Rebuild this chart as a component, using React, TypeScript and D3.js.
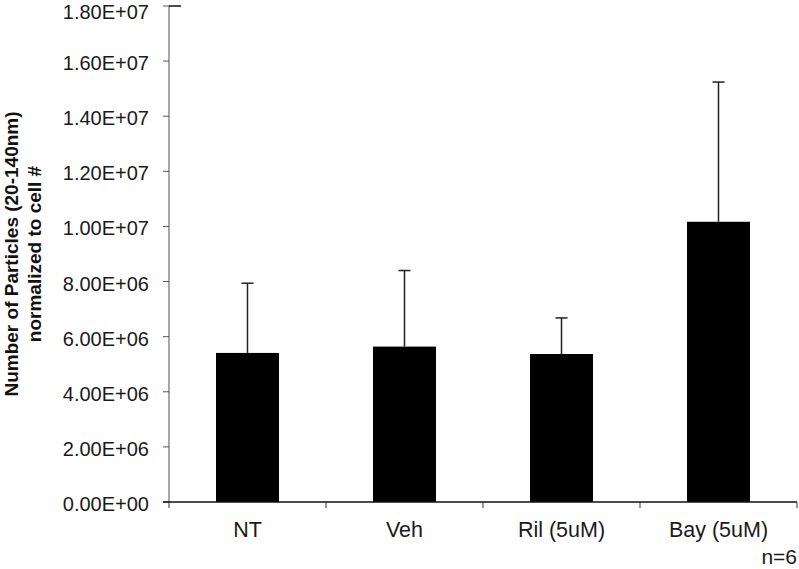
import React from "react";
import * as d3 from "d3";

const categories = ["NT", "Veh", "Ril (5uM)", "Bay (5uM)"];
const means = [5.41e6, 5.64e6, 5.37e6, 1.017e7];
const errTops = [7.94e6, 8.4e6, 6.68e6, 1.524e7];
const yTicks = [0, 2e6, 4e6, 6e6, 8e6, 1e7, 1.2e7, 1.4e7, 1.6e7, 1.8e7];
const yTitleLines = ["Number of Particles (20-140nm)", "normalized to cell #"];
const note = "n=6";

const W = 799;
const H = 569;
const left = 169;
const right = 797;
const top = 6;
const bottom = 502;

const fmt = (v: number) => {
  const s = v.toExponential(2).toUpperCase();
  const m = s.match(/^([\d.]+)E([+-])(\d+)$/);
  if (!m) return s;
  return `${m[1]}E${m[2]}${m[3].padStart(2, "0")}`;
};

export default function App() {
  const xb = d3.scaleBand<string>().domain(categories).range([left, right]);
  const y = d3.scaleLinear().domain([0, 1.8e7]).range([bottom, top]);
  const font = "'Liberation Sans', Arial, Helvetica, sans-serif";
  const capW = 12;
  const bw = 63;
  return (
    <svg width={W} height={H} style={{ position: "absolute", left: 0, top: 0, background: "#fff" }} fontFamily={font}>
      {categories.map((c, i) => {
        const cx = (xb(c) as number) + xb.bandwidth() / 2;
        return (
          <g key={c}>
            <line x1={cx} x2={cx} y1={y(means[i])} y2={y(errTops[i])} stroke="#222" strokeWidth={1.5} />
            <line x1={cx - capW / 2} x2={cx + capW / 2} y1={y(errTops[i])} y2={y(errTops[i])} stroke="#222" strokeWidth={1.5} />
            <rect x={cx - bw / 2} y={y(means[i])} width={bw} height={bottom - y(means[i])} fill="#000" />
          </g>
        );
      })}
      <line x1={left} x2={left} y1={top} y2={bottom} stroke="#888" strokeWidth={1.5} />
      {yTicks.map((t) => (
        <g key={t}>
          <line x1={left - 6} x2={left} y1={y(t)} y2={y(t)} stroke="#555" strokeWidth={1} />
          <text x={149} y={Math.max(y(t) + 9, 19)} textAnchor="end" fontSize={20} fill="#1a1a1a">
            {fmt(t)}
          </text>
        </g>
      ))}
      <line x1={left} x2={left + 12} y1={top} y2={top} stroke="#111" strokeWidth={1.5} />
      <line x1={left - 6} x2={right} y1={bottom} y2={bottom} stroke="#111" strokeWidth={1.5} />
      {[...categories.map((c) => xb(c) as number), right].map((p, i) => (
        <line key={i} x1={p} x2={p} y1={bottom} y2={bottom + 6} stroke="#333" strokeWidth={1} />
      ))}
      {categories.map((c) => (
        <text key={c} x={(xb(c) as number) + xb.bandwidth() / 2} y={537} textAnchor="middle" fontSize={21.5} fill="#1a1a1a">
          {c}
        </text>
      ))}
      <text x={797} y={563.5} textAnchor="end" fontSize={21} fill="#1a1a1a">
        {note}
      </text>
      <g transform={`translate(0, 254)`}>
        {yTitleLines.map((l, i) => (
          <text key={i} transform={`translate(${18 + i * 23}, 0) rotate(-90)`} textAnchor="middle" fontSize={19} fontWeight="bold" fill="#111">
            {l}
          </text>
        ))}
      </g>
    </svg>
  );
}
